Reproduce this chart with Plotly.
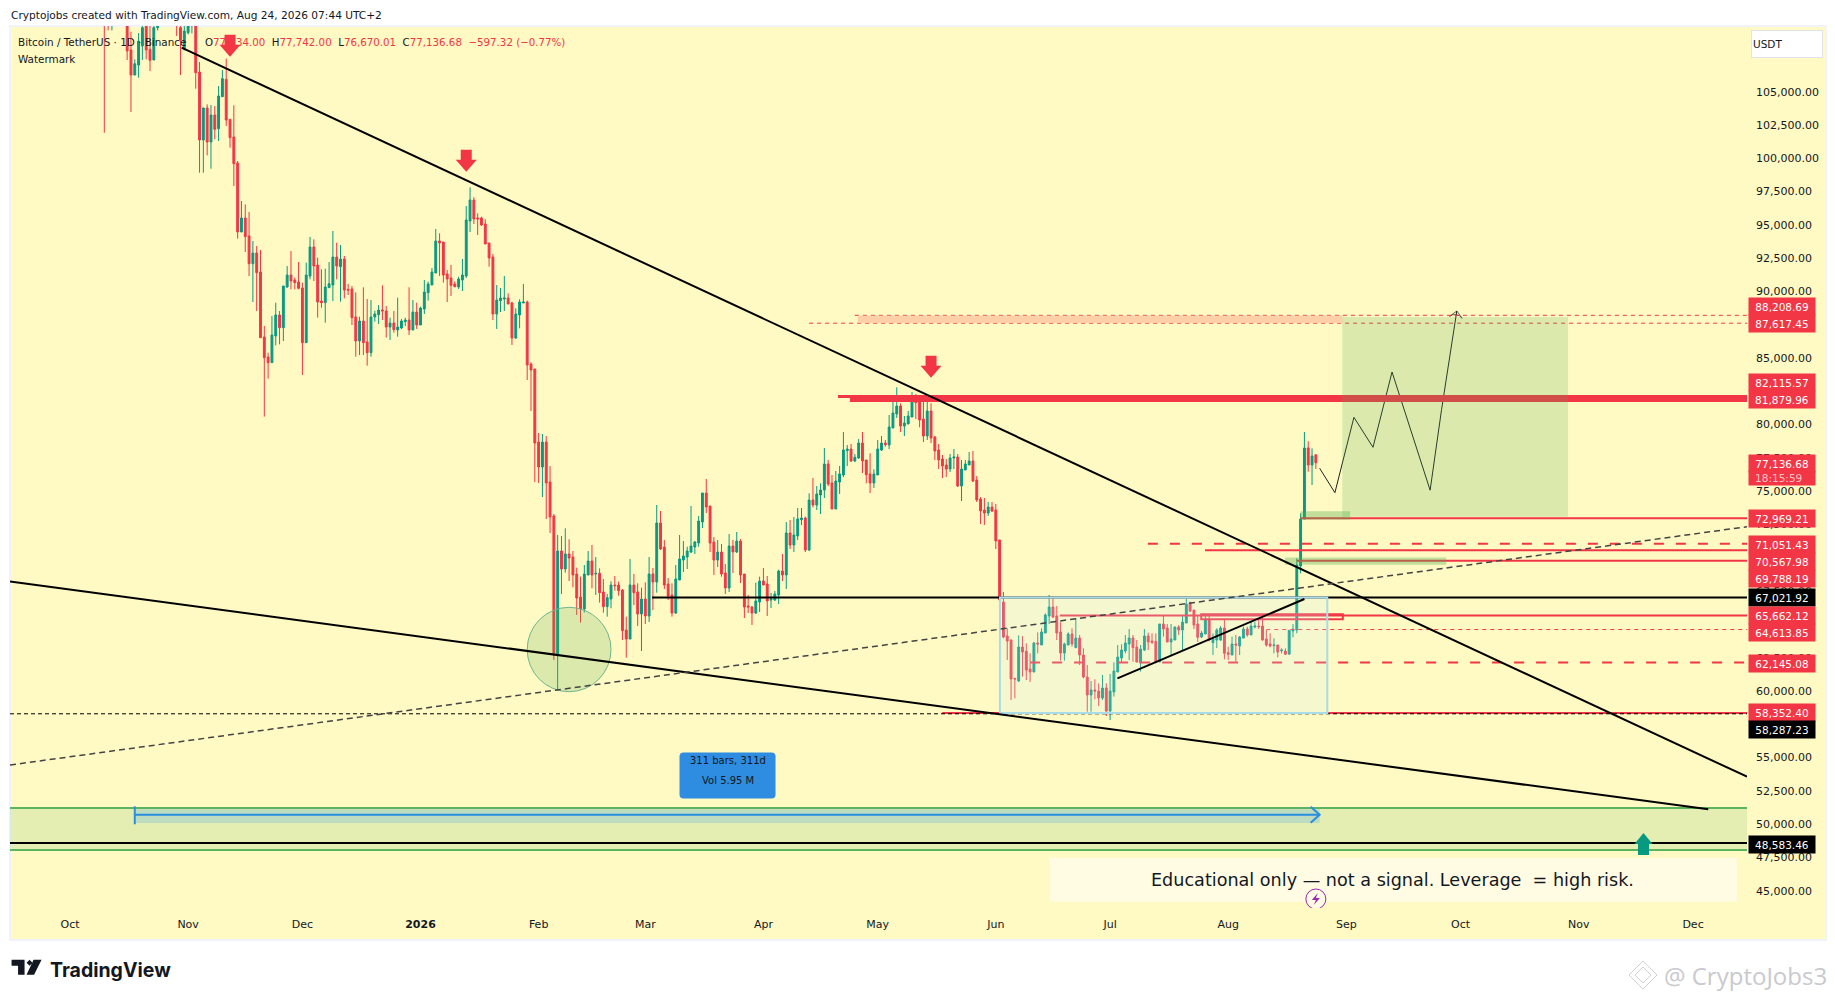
import pandas as pd
import plotly.graph_objects as go

# daily candles, first bar 2025-10-10
opens = [121500,113000,110800,115000,115200,113000,111000,108130,106250,107000,
108430,110000,108180,107380,109810,111000,111600,114500,114100,112900,
109810,108180,109430,110000,110500,106480,101373,103776,101223,103250,
102224,104627,105928,102925,101598,99646,94465,95516,94164,92087,
92888,91461,86580,85078,84653,86655,88232,87281,90335,91236,
90860,90710,90260,86155,91160,93338,91986,89283,89158,90285,
90485,92587,91862,92438,90160,90185,88082,86281,87782,86206,
85404,88082,88258,88608,88533,87332,87632,87107,87257,87732,
87857,87107,88458,87482,88683,89910,90486,91387,93790,93715,
91312,91011,90561,90335,90861,91161,95291,96868,95517,95517,
95066,93639,92588,88308,89309,89434,89509,89134,86506,88233,
89134,89209,84553,84178,78696,76819,78696,75692,73140,62702,
70512,69160,70286,70060,68784,67057,66156,68709,69760,68784,
68834,67432,66331,66907,67958,67958,67583,64579,63903,67958,
67433,65781,66907,65631,68784,68183,72614,70811,68033,67207,
65856,68334,69835,70061,70436,70812,71112,72689,74866,73890,
71187,69835,70436,68859,67733,70887,70436,71262,68784,66381,
66306,65856,66682,68258,68033,66832,66832,67207,69009,68709,
71863,70962,71637,72864,72989,70586,74341,73965,74716,75092,
77044,75617,73665,75693,76218,78046,78171,77270,77495,78621,
77345,76293,75618,76218,78096,78621,78471,79748,80799,81400,
79898,80048,80574,81850,81850,80423,79147,81024,79072,78096,
77420,76969,76669,77495,77570,75392,76594,76969,77270,75843,
74416,73590,73365,73815,73590,71338,66682,64129,63829,60951,
60751,63303,62977,61651,61426,63604,63453,64354,65631,66306,
65631,64429,62852,63453,64279,63252,63978,62702,61050,59698,
60074,59999,59473,60224,58497,59924,61426,62477,63002,63528,
63978,63303,62101,63077,64129,63753,63728,62176,65030,64729,
63678,63828,64804,64579,65105,66606,66081,65030,64053,64279,
65330,63628,63828,63828,64729,62877,62702,63528,63378,63978,
64654,64203,64804,64879,64879,63903,63528,63403,63453,63027,
62998,62777,64504,64579,69385,72914,78246,76969,77734]
highs = [122500,113400,115000,115900,115400,113600,113600,109500,107430,109400,
111700,111700,110000,111000,111700,111900,114800,116400,116000,113600,
111500,111200,111200,111000,110800,107230,103800,104051,104000,103926,
105428,106629,107480,102925,103976,99796,96792,96542,95966,93789,
93413,93113,87406,85404,88157,89158,88532,90410,91911,93038,
91035,92212,90660,92162,94089,93914,92537,91661,91711,92212,
94540,93664,93489,92663,90561,90410,89935,88107,90310,89434,
89359,88558,88984,90460,88909,88033,88533,89535,87933,88033,
90310,89359,89159,88859,90861,90736,91762,94691,94365,93715,
91612,91987,90761,91111,92438,96418,97819,97068,95867,95617,
95417,93639,92813,90485,90260,91161,89860,89234,88734,89409,
90561,89309,84678,84178,79372,79297,79147,76894,73290,71713,
71638,72213,71388,70512,69260,68584,69460,70511,70962,70061,
69209,68409,67282,68234,68634,68209,67658,65580,69910,68784,
68083,67758,68158,70061,69235,73965,73515,71337,68484,68083,
69460,71713,71262,70836,73890,71262,73139,74866,75918,73890,
71562,71337,71037,69535,71788,71337,71938,71412,68784,67207,
66381,68133,68584,69235,68634,67358,67508,69109,70286,72689,
72839,73064,73740,73740,73089,74841,75993,75392,75592,78245,
77344,76218,76519,76894,79447,78471,78546,77795,78922,79447,
77345,77845,76644,78847,79147,78847,80724,81700,82801,81600,
80649,81024,82451,82301,82100,81850,81700,81600,79147,78546,
77720,77420,77795,78171,77795,77345,77345,77945,78020,76143,
74566,74491,74191,74191,74041,71338,67433,64705,63879,60951,
64179,64129,63578,62827,63679,64404,64705,65831,67208,67083,
66382,65155,63628,64404,64705,65480,64203,63202,61951,60749,
60874,60574,61200,60574,61275,62151,63453,63503,64203,64654,
64203,63828,63453,64654,64379,64329,64329,65030,65630,65030,
65030,64829,64955,65630,66932,66707,66081,65630,64504,65630,
65705,64329,64704,64879,65330,63328,64078,64203,64128,64829,
64829,65205,65205,65330,65580,64579,64328,63954,63453,63202,
63202,64554,65030,69960,73340,79447,78746,78220,77742]
lows = [101920,109600,109600,113600,110000,110200,107380,103475,106250,106050,
107380,107430,106554,107380,109600,110700,111000,113800,112000,109180,
106254,108100,109300,109380,105227,98920,98920,100222,99220,101423,
101298,104627,102424,100797,97919,93964,94465,92963,91160,89208,
88532,86530,80598,83451,84653,85955,86030,86280,90285,90160,
90160,90160,83727,86155,90910,90785,88032,88782,87656,90285,
89283,90910,89234,89484,89735,87482,85104,85229,85229,84429,
85104,87732,87557,87857,86531,86356,86906,86606,87182,87407,
86731,87107,87182,87482,88308,89309,90486,91387,91161,90661,
89209,89660,90310,90185,90035,91011,94465,95066,94240,94916,
93564,91862,87857,87182,88458,88533,89059,85980,86431,87232,
89134,83352,81024,75692,75617,74566,72914,71863,62327,60000,
67282,68885,68259,67783,65706,65130,65906,68709,67708,67207,
66631,65881,65580,66206,67533,67157,63828,62502,63903,66456,
64880,63002,65030,65180,66081,67383,70586,67658,66832,65580,
65781,68334,68934,69160,70361,70286,70837,72238,73365,70436,
68709,69310,68584,67282,67433,68859,70361,68108,65480,65856,
64955,65781,65931,67958,65631,66231,66757,66531,68258,67658,
70661,70436,71337,72463,70436,70511,73790,73590,73289,74491,
75392,73665,73665,74792,76068,76894,77195,77195,77420,76369,
75593,74867,75242,76218,78020,78346,78171,79748,80499,79447,
79147,80048,80574,80423,79798,78696,78847,78621,77345,76669,
75993,76068,76444,76669,75317,74266,76594,76969,75693,74191,
72539,72464,73140,73440,70662,66206,63954,62327,59323,59448,
60675,61075,60825,60675,61426,62827,63453,64354,65030,65481,
63829,62277,62277,63453,63328,63252,61951,60950,58447,58447,
59373,58873,59323,58121,57821,59573,61426,62151,62827,62326,
62201,62151,61450,62998,63077,63528,62076,62176,64078,63678,
62702,63828,64203,63077,65105,65931,64654,63678,63978,64279,
63728,62702,63228,63753,62376,62326,62702,62201,62702,63954,
64078,64203,64704,64654,63778,63328,63277,62827,62527,62827,
62702,62702,64028,64329,68834,72914,76468,75467,76670]
closes = [113000,110800,115000,115200,113000,111000,108060,106250,107100,108800,
109810,108130,107355,109810,111000,111600,114500,114100,112900,110000,
108880,109558,110000,110500,106429,101373,103776,101223,103250,102174,
104677,105978,102875,101548,99596,94465,95516,94114,92087,92888,
91411,86530,85028,84653,86730,88232,87281,90410,91236,90785,
90660,90234,86155,91236,93338,91911,89208,89158,90335,90585,
92587,91911,92438,90110,90110,88032,86281,87782,86156,85404,
88082,88308,88608,88533,87332,87632,87132,87332,87782,87857,
87107,88458,87482,88758,89960,90561,91462,93790,93640,91236,
90936,90460,90360,90936,91237,95366,96868,95441,95441,94991,
93564,92513,88308,89359,89509,89509,89059,86506,88308,89209,
89209,84478,84103,78621,76819,78696,75617,73065,62702,70512,
69160,70286,69985,68709,66982,66156,68784,69760,68709,68834,
67382,66331,67007,67958,67908,67533,64529,63903,67958,67382,
65781,66907,65631,68784,68183,72614,70661,67958,67132,65856,
68409,69910,70136,70511,70887,71187,72764,74866,73815,71112,
69835,70436,68784,67733,70887,70436,71262,68709,66306,66306,
65856,66757,68258,67958,66757,66907,67282,69009,68709,71863,
70962,71713,72914,72989,70586,74341,73965,74791,75092,77044,
75542,73665,75768,76293,78096,78171,77270,77545,78621,77270,
76243,75618,76293,78171,78621,78496,79823,80874,81400,79898,
80123,80649,81850,81650,80348,79147,81024,78997,78020,77345,
76894,76669,77495,77570,75392,76669,77044,77270,75768,74341,
73515,73365,73815,73515,71263,66832,64054,63754,60901,60901,
63303,62927,61576,61426,63604,63529,64429,65706,66306,65556,
64354,62852,63528,64279,63528,63979,62702,61050,59698,60074,
59999,59473,60224,58497,59999,61501,62552,63077,63603,63978,
63253,62176,63152,64129,63678,63653,62176,65030,64654,63678,
63904,64804,64579,65180,66531,66006,64955,64028,64354,65330,
63828,63904,64579,64729,62827,62752,63528,63453,64053,64654,
64203,64879,64879,64829,63828,63453,63378,63453,62927,63077,
62752,64554,64654,69460,72914,78246,76969,77645,77137]

y_ticks = [45000,47500,50000,52500,55000,57500,60000,62500,65000,67500,70000,72500,
           75000,77500,80000,82500,85000,87500,90000,92500,95000,97500,100000,102500,105000]
month_ticks = ["2025-10-01","2025-11-01","2025-12-01","2026-01-01","2026-02-01","2026-03-01","2026-04-01",
               "2026-05-01","2026-06-01","2026-07-01","2026-08-01","2026-09-01","2026-10-01","2026-11-01","2026-12-01"]
month_labels = ["Oct","Nov","Dec","<b>2026</b>","Feb","Mar","Apr","May","Jun","Jul","Aug","Sep","Oct","Nov","Dec"]

# projected path after the last bar
path_dates = ["2026-08-25","2026-08-29","2026-09-03","2026-09-08","2026-09-13","2026-09-23","2026-09-26","2026-09-30"]
path_prices = [76720,74889,80551,78298,83952,75076,81136,88533]

# price tags: value, pixel nudge off the level (they get pushed apart on the axis)
tag_values = [88208.69,87617.45,82115.57,81879.96,77136.68,72969.21,71051.43,70567.98,69788.19,
              67021.92,65662.12,64613.85,62145.08,58352.40,58287.23,48583.46]
tag_nudges = [-8.6,0.5,-13.7,-0.3,0.5,0.7,0.9,11.5,18.1,0.4,0,3.2,0.6,0,16.2,1]
tag_black = [67021.92,58287.23,48583.46]

RED = "#F23645"
GREEN = "#089981"
BG = "#FFF9C4"
FONT = "DejaVu Sans"
X_LEFT = "2025-09-15 06:00"
X_RIGHT = "2026-12-15 04:00"

dates = pd.date_range("2025-10-10", periods=len(closes), freq="D")

fig = go.Figure()
fig.add_trace(go.Candlestick(x=dates, open=opens, high=highs, low=lows, close=closes,
                             increasing=dict(line=dict(color=GREEN, width=1), fillcolor=GREEN),
                             decreasing=dict(line=dict(color=RED, width=1), fillcolor=RED),
                             whiskerwidth=0, showlegend=False, hoverinfo="skip"))
fig.add_trace(go.Scatter(x=path_dates, y=path_prices, mode="lines+markers", showlegend=False, hoverinfo="skip",
                         line=dict(color="#222222", width=1),
                         marker=dict(symbol="arrow-wide-open", angleref="previous", color="#222222",
                                     size=[0,0,0,0,0,0,0,9], line=dict(width=1, color="#222222"))))

shapes = []


def seg(x0, y0, x1, y1, color="#000000", width=2, dash="solid", layer="above"):
    shapes.append(dict(type="line", xref="x", yref="y", x0=x0, y0=y0, x1=x1, y1=y1, layer=layer,
                       line=dict(color=color, width=width, dash=dash)))


def box(x0, y0, x1, y1, fill, line=None, width=0, layer="above"):
    shapes.append(dict(type="rect", xref="x", yref="y", x0=x0, y0=y0, x1=x1, y1=y1, layer=layer, fillcolor=fill,
                       line=dict(color=line or "rgba(0,0,0,0)", width=width)))


def glyph(x, y, path, fill, line=None, xref="x", yref="y", width=1):
    shapes.append(dict(type="path", xref=xref, yref=yref, xsizemode="pixel", ysizemode="pixel", xanchor=x, yanchor=y,
                       path=path, fillcolor=fill, line=dict(color=line or "rgba(0,0,0,0)", width=width if line else 0)))


# panel behind the chart, bigger than the plot area so the axes sit on it
shapes.append(dict(type="rect", xref="paper", yref="paper", x0=0, x1=1.04548, y0=-0.03628, y1=1, layer="below",
                   fillcolor=BG, line=dict(color="#F0F3FA", width=2)))

# zones, the sides run past the axis range so only top and bottom edges show
box("2025-09-01", 48060, "2027-01-01", 51214, "rgba(76,175,80,0.15)", "#5BB45F", 2, layer="below")
shapes.append(dict(type="circle", xref="x", yref="y", x0="2026-01-29", x1="2026-02-20", y0=59946, y1=66283,
                   fillcolor="rgba(76,175,80,0.2)", line=dict(color="#6DB58E", width=1)))

# resistance and support levels
seg("2026-04-20 14:00", 82115.57, X_RIGHT, 82115.57, RED, 3)
seg("2026-04-23 17:00", 81879.96, X_RIGHT, 81879.96, RED, 5)
seg("2026-04-25", 88208.69, X_RIGHT, 88208.69, RED, 1, "4px,4px")
seg("2026-04-13", 87617.45, X_RIGHT, 87617.45, RED, 1, "4px,4px")
box("2026-04-25 19:00", 87640, "2026-08-31", 88180, "#FFD0A8")
seg("2026-08-20", 72969.21, X_RIGHT, 72969.21, RED, 2)
seg("2026-07-10 22:00", 71051.43, X_RIGHT, 71051.43, RED, 2, "10px,12px")
seg("2026-07-25 22:00", 70567.98, X_RIGHT, 70567.98, RED, 2)
seg("2026-08-19", 69788.19, X_RIGHT, 69788.19, RED, 2)
seg("2026-06-17 19:00", 65662.12, X_RIGHT, 65662.12, RED, 2)
box("2026-07-24 22:00", 65382, "2026-08-31 02:00", 65758, "rgba(0,0,0,0)", RED, 2)
seg("2026-08-11", 64613.85, X_RIGHT, 64613.85, RED, 1, "4px,4px")
seg("2026-06-10", 62145.08, X_RIGHT, 62145.08, RED, 2, "10px,12px")
seg("2026-05-17 22:00", 58352.40, X_RIGHT, 58352.40, RED, 2)
seg(X_LEFT, 58287.23, X_RIGHT, 58287.23, "#000000", 1, "4px,3px")
seg("2026-03-02 19:00", 67021.92, X_RIGHT, 67021.92, "#000000", 2)
seg(X_LEFT, 48583.46, X_RIGHT, 48583.46, "#000000", 2)

# consolidation box sits over its two boundary levels
box("2026-06-02 02:00", 58352.4, "2026-08-27", 67021.92, "rgba(205,238,251,0.2)", "#A9DCE8", 2)

# take-profit block and the two small demand bands
box("2026-08-30 22:00", 73086, "2026-10-29 05:00", 88082, "rgba(76,175,80,0.2)")
box("2026-08-20", 72860, "2026-09-02", 73490, "rgba(76,175,80,0.35)")
box("2026-08-15 22:00", 69470, "2026-09-27 05:00", 70030, "rgba(76,175,80,0.35)")

# trend lines
seg("2025-10-30 07:00", 108304, X_RIGHT, 53563)
seg(X_LEFT, 68213, "2026-12-05", 51115)
seg(X_LEFT, 54441, X_RIGHT, 72336, "#444444", 1.5, "6px,4px")
seg("2026-07-02 22:00", 60952, "2026-08-21", 66907)

# date range ruler
box("2025-10-18", 50086, "2026-08-25", 51115, "rgba(33,150,243,0.2)")
seg("2025-10-18", 50710, "2026-08-25", 50710, "#2A8EE0", 2)
seg("2025-10-18", 49990, "2025-10-18", 51340, "#2A8EE0", 2)
glyph("2026-08-25", 50710, "M -9 8 L 0 0 L -9 -8", "rgba(0,0,0,0)", "#2A8EE0", width=2)
glyph("2026-03-22 14:00", 53653, "M -44 23 L 44 23 Q 48 23 48 19 L 48 -19 Q 48 -23 44 -23 L -44 -23 "
      "Q -48 -23 -48 -19 L -48 19 Q -48 23 -44 23 Z", "#2E8DE0")

# arrows
ARROW_DOWN = "M -5.5 22 L 5.5 22 L 5.5 12 L 10.5 12 L 0 0 L -10.5 12 L -5.5 12 Z"
ARROW_UP = "M -5.5 -22 L 5.5 -22 L 5.5 -11 L 9 -11 L 0 0 L -9 -11 L -5.5 -11 Z"
glyph("2025-11-12", 107628, ARROW_DOWN, RED)
glyph("2026-01-13", 98993, ARROW_DOWN, RED)
glyph("2026-05-15", 83524, ARROW_DOWN, RED)
glyph("2026-11-18", 49335, ARROW_UP, GREEN)

# note box and the little bolt marker
box("2026-06-15 05:00", 44177, "2026-12-12 12:00", 47481, "#FFFCE3")
shapes.append(dict(type="circle", xref="x", yref="y", xsizemode="pixel", ysizemode="pixel", xanchor="2026-08-24",
                   yanchor=44380, x0=-10, x1=10, y0=-10, y1=10, fillcolor="#FFFCE3",
                   line=dict(color="#9C27B0", width=1)))
glyph("2026-08-24", 44380, "M 2 6 L -4 -1 L 0 -1 L -2 -6 L 4 1 L 0 1 Z", "#9C27B0")

# footer logos
glyph(0.0009, -0.0756, "M 0 15 L 13 15 L 13 0 L 6.5 0 L 6.5 9 L 0 9 Z M 15 12 L 18 15 L 21 12 L 18 9 Z "
      "M 22 15 L 30 15 L 22.5 0 L 15 0 Z", "#131722", xref="paper", yref="paper")
glyph(0.9401, -0.076, "M -14 0 L 0 14 L 14 0 L 0 -14 Z M -8 0 L 0 8 L 8 0 L 0 -8 Z", "rgba(0,0,0,0)", "#CFCFD4",
      xref="paper", yref="paper")

annotations = []


def note(text, x, y, size=11, color="#131722", xref="paper", yref="paper", anchor="left", **kw):
    annotations.append(dict(text=text, x=x, y=y, xref=xref, yref=yref, xanchor=anchor, yanchor="middle",
                            showarrow=False, align=anchor, font=dict(family=kw.pop("family", FONT), size=size, color=color), **kw))


def px(x):
    return (x - 10) / 1737


def py(y):
    return (908 - y) / 882


note("Cryptojobs created with TradingView.com, Aug 24, 2026 07:44 UTC+2", px(9), py(15), 10.6)
note("Bitcoin / TetherUS · 1D · Binance", px(16), py(42), 10.4)
note("Watermark", px(16), py(59), 10.4)
red = f'<span style="color:{RED}">'
note(f'O{red}77,734.00</span>  H{red}77,742.00</span>  L{red}76,670.01</span>  C{red}77,136.68</span>  '
     f'{red}−597.32 (−0.77%)</span>', px(203), py(42), 10.25)
note("USDT", px(1751), py(44), 10.5, bgcolor="#FFFFFF", bordercolor="#E0E3EB", borderwidth=1, width=68, height=24)

for value, nudge in zip(tag_values, tag_nudges):
    annotations.append(dict(text=f"{value:,.2f}", x=1, y=value, xref="paper", yref="y", xanchor="left", yanchor="middle",
                            xshift=1, yshift=-nudge, showarrow=False, width=66, height=17, borderpad=0,
                            bgcolor="#000000" if value in tag_black else RED,
                            font=dict(family=FONT, size=10.5, color="#FFFFFF")))
annotations.append(dict(text="18:15:59\u00a0\u00a0", x=1, y=77136.68, xref="paper", yref="y", xanchor="left", yanchor="middle",
                        xshift=1, yshift=-14.9, showarrow=False, width=66, height=14, borderpad=0,
                        bgcolor=RED, font=dict(family=FONT, size=10.5, color="#FFC4C9")))

note("311 bars, 311d", "2026-03-22 14:00", 54750, 10, xref="x", yref="y", anchor="center")
note("Vol 5.95 M", "2026-03-22 14:00", 53250, 10, xref="x", yref="y", anchor="center")
note("Educational only — not a signal. Leverage\u00a0\u00a0= high risk.", "2026-09-13 05:00", 45807, 17.6, "#131722",
     xref="x", yref="y", anchor="center")

note("<b>TradingView</b>", px(48), py(970), 19.5, "#131722", family="Inter")
note("@ CryptoJobs3", px(1662), py(975), 24, "#C9C9CE", family="Open Sans")

fig.update_layout(
    width=1835, height=1000, margin=dict(l=10, r=88, t=26, b=92, autoexpand=False),
    paper_bgcolor="#FFFFFF", plot_bgcolor=BG, showlegend=False, shapes=shapes, annotations=annotations,
    font=dict(family=FONT, size=11, color="#131722"),
    xaxis=dict(type="date", range=[X_LEFT, X_RIGHT], rangeslider=dict(visible=False), showgrid=False, zeroline=False,
               tickmode="array", tickvals=month_ticks, ticktext=month_labels, ticks="", showline=False,
               ticklabelstandoff=8, tickfont=dict(family=FONT, size=11)),
    yaxis=dict(side="right", range=[43704, 109934], tickvals=y_ticks, tickformat=",.2f", showgrid=False,
               zeroline=False, ticks="", showline=False, ticklabelstandoff=8, tickfont=dict(family=FONT, size=11)),
)

# the page's default body margin would push the fixed-size plot 8px off
fig.write_html("out.html", post_script="document.body.style.margin='0'", config=dict(displayModeBar=False))
